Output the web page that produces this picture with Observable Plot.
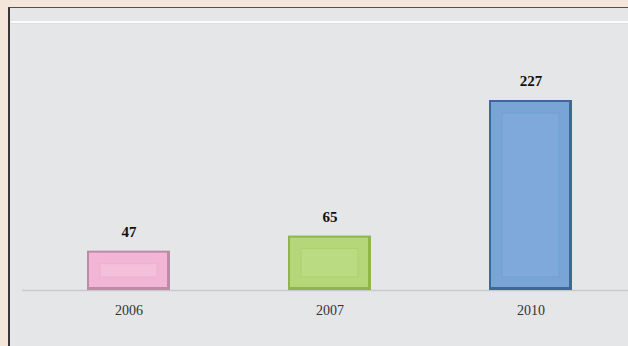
<!DOCTYPE html>
<html>
<head>
<meta charset="utf-8">
<script src="https://cdn.jsdelivr.net/npm/d3@7"></script>
<script src="https://cdn.jsdelivr.net/npm/@observablehq/plot@0.6"></script>
<style>
  html, body { margin: 0; padding: 0; }
  body { width: 628px; height: 346px; background: #f5e6dc; position: relative; overflow: hidden; }
  #panel { position: absolute; left: 8px; top: 7px; right: 0; bottom: 0; background: #e5e6e8;
           border-top: 1px solid #5a4e4a; border-left: 2px solid #3a3636; }
  #gloss { position: absolute; left: 11px; right: 0; top: 21px; height: 2px; background: #fbfbfb;
           border-bottom: 1px solid #dcdedd; }
  #chart { position: absolute; left: 0; top: 0; }
</style>
</head>
<body>
<div id="panel"></div>
<div id="gloss"></div>
<div id="chart"></div>
<script>
const years = ["2006", "2007", "2010"];
const values = [47, 65, 227];

const edgeColor  = {"2006": "#bc8ca6", "2007": "#8fb54c", "2010": "#3f6798"};
const mainColor  = {"2006": "#f2b5d5", "2007": "#b5d779", "2010": "#78a4d6"};
const innerColor = {"2006": "#f4bfdb", "2007": "#bbdb82", "2010": "#7ea9da"};
const innerEdge  = {"2006": "#eeb0d0", "2007": "#adcf6e", "2010": "#729fd2"};

const data = years.map((y, i) => ({year: y, value: values[i]}));

const chart = Plot.plot({
  width: 628,
  height: 346,
  marginLeft: 22,
  marginRight: 0,
  marginTop: 0,
  marginBottom: 56,
  style: {background: "transparent", fontFamily: "'Liberation Serif', 'Times New Roman', serif"},
  x: {domain: years, range: [86, 572.5], paddingInner: 0.589, paddingOuter: 0, label: null},
  y: {domain: [0, 227], range: [290, 100], axis: null},
  marks: [
    Plot.ruleY([0], {stroke: "#c9cacc", strokeWidth: 1.5}),
    Plot.barY(data, {x: "year", y: "value", fill: d => edgeColor[d.year]}),
    Plot.barY(data, {x: "year", y: "value", fill: d => mainColor[d.year], insetLeft: 2, insetRight: 3, insetTop: 2, insetBottom: 3}),
    Plot.barY(data, {x: "year", y: "value", fill: d => innerColor[d.year], stroke: d => innerEdge[d.year], strokeWidth: 1, insetLeft: 13, insetRight: 13, insetTop: 13, insetBottom: 13}),
    Plot.text(data, {x: "year", y: "value", text: d => String(d.value), dy: -19, fontSize: 15, fontWeight: "bold", fill: "#111"}),
    Plot.axisX({tickSize: 0, tickPadding: 15, fontSize: 14, fill: "#333", label: null})
  ]
});
document.getElementById("chart").appendChild(chart);
</script>
</body>
</html>
